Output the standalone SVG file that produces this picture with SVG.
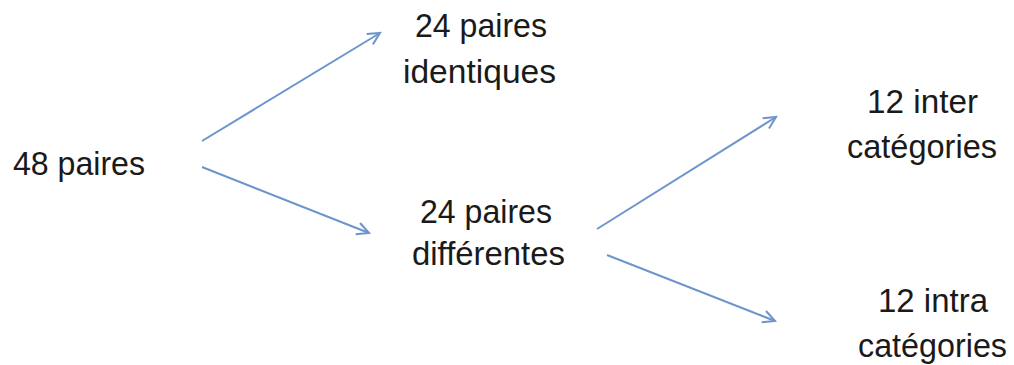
<svg xmlns="http://www.w3.org/2000/svg" width="1014" height="365" viewBox="0 0 1014 365">
<style>
.t{font-family:"Liberation Sans",Arial,sans-serif;font-size:33px;fill:#1a1a1a;text-anchor:middle}
.c{stroke:#6e95cb;stroke-width:2;fill:none}
</style>
<defs>
<marker id="ah" markerUnits="userSpaceOnUse" markerWidth="16" markerHeight="16" refX="13" refY="7" orient="auto" viewBox="0 0 16 14">
<polyline points="1,1 13,7 1,13" fill="none" stroke="#6e95cb" stroke-width="2"/>
</marker>
</defs>
<rect width="1014" height="365" fill="#fff"/>
<g id="connectors">
<line class="c" x1="202" y1="141" x2="380" y2="33" marker-end="url(#ah)"/>
<line class="c" x1="202" y1="167" x2="369" y2="233" marker-end="url(#ah)"/>
<line class="c" x1="597" y1="229" x2="776" y2="117" marker-end="url(#ah)"/>
<line class="c" x1="607" y1="255" x2="775" y2="321" marker-end="url(#ah)"/>
</g>
<g id="n48"><text class="t" x="79" y="175" textLength="132" lengthAdjust="spacingAndGlyphs">48 paires</text></g>
<g id="nident">
<text class="t" x="481" y="37" textLength="132" lengthAdjust="spacingAndGlyphs">24 paires</text>
<text class="t" x="479.5" y="83" textLength="153" lengthAdjust="spacingAndGlyphs">identiques</text>
</g>
<g id="ndiff">
<text class="t" x="486" y="223" textLength="132" lengthAdjust="spacingAndGlyphs">24 paires</text>
<text class="t" x="488.5" y="265" textLength="153" lengthAdjust="spacingAndGlyphs">différentes</text>
</g>
<g id="ninter">
<text class="t" x="922.5" y="113" textLength="111" lengthAdjust="spacingAndGlyphs">12 inter</text>
<text class="t" x="922" y="158" textLength="150" lengthAdjust="spacingAndGlyphs">catégories</text>
</g>
<g id="nintra">
<text class="t" x="933" y="312" textLength="110" lengthAdjust="spacingAndGlyphs">12 intra</text>
<text class="t" x="932.5" y="357" textLength="149" lengthAdjust="spacingAndGlyphs">catégories</text>
</g>
</svg>
